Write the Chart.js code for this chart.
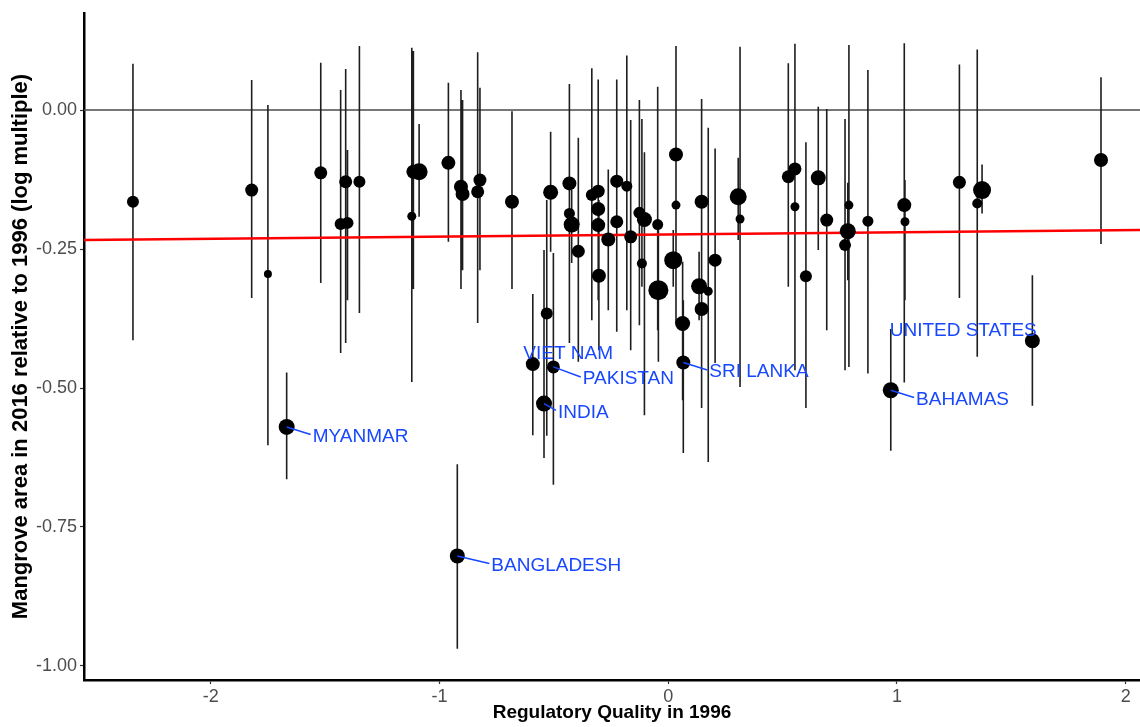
<!DOCTYPE html>
<html>
<head>
<meta charset="utf-8">
<script src="https://cdn.jsdelivr.net/npm/chart.js@4/dist/chart.umd.min.js"></script>
<style>
html,body{margin:0;padding:0;background:#fff;overflow:hidden}
#wrap{position:relative;width:1140px;height:727px}
</style>
</head>
<body>
<div id="wrap"><canvas id="c" width="1140" height="727"></canvas></div>
<script>
// ---------------- data ----------------
const regQuality = [
  -2.340, -1.821, -1.750, -1.519, -1.432, -1.410, -1.402, -1.668, -1.350, -1.121,
  -1.114, -1.089, -0.961, -0.906, -0.899, -0.833, -0.823, -0.922, -0.683, -0.592,
  -0.531, -0.514, -0.543, -0.502, -0.432, -0.432, -0.422, -0.393, -0.334, -0.306,
  -0.306, -0.306, -0.303, -0.262, -0.225, -0.225, -0.181, -0.164, -0.126, -0.104,
  -0.115, -0.046, -0.043, 0.034, 0.034, 0.022, 0.063, 0.066, 0.146, 0.135,
  0.146, 0.175, 0.205, 0.306, 0.314, 0.525, 0.554, 0.554, 0.602, 0.656,
  0.693, 0.790, 0.785, 0.773, 0.873, 0.973, 1.032, 1.035, 1.273, 1.351,
  1.372, 1.592, 1.892
];
const mangroveChange = [
  -0.165, -0.144, -0.295, -0.113, -0.205, -0.129, -0.203, -0.570, -0.129, -0.191,
  -0.111, -0.111, -0.095, -0.138, -0.151, -0.147, -0.126, -0.802, -0.165, -0.457,
  -0.366, -0.148, -0.528, -0.462, -0.132, -0.186, -0.206, -0.254, -0.153, -0.146,
  -0.178, -0.207, -0.298, -0.233, -0.128, -0.201, -0.137, -0.228, -0.185, -0.197,
  -0.276, -0.206, -0.324, -0.080, -0.171, -0.270, -0.384, -0.454, -0.165, -0.317,
  -0.358, -0.326, -0.270, -0.156, -0.196, -0.120, -0.106, -0.174, -0.299, -0.122,
  -0.198, -0.171, -0.218, -0.243, -0.200, -0.504, -0.171, -0.201, -0.130, -0.168,
  -0.144, -0.415, -0.090
];
const ciHigh = [
  0.083, 0.054, 0.009, 0.085, 0.036, 0.074, -0.072, -0.472, 0.115, 0.112,
  0.106, -0.025, 0.049, 0.036, 0.018, 0.104, 0.040, -0.637, -0.002, -0.331,
  -0.162, -0.039, -0.252, -0.257, 0.047, -0.072, -0.144, -0.050, 0.075, 0.055,
  -0.018, -0.072, -0.162, -0.107, 0.055, -0.018, 0.098, -0.018, 0.018, -0.076,
  -0.016, 0.042, -0.216, 0.115, -0.072, -0.216, -0.273, -0.342, 0.020, -0.255,
  -0.252, -0.032, -0.069, -0.086, 0.114, 0.084, 0.119, -0.072, -0.058, 0.006,
  0.002, 0.117, -0.131, -0.016, 0.072, -0.394, 0.120, -0.126, 0.082, 0.109,
  -0.098, -0.297, 0.059
];
const ciLow = [
  -0.414, -0.338, -0.603, -0.311, -0.437, -0.419, -0.342, -0.664, -0.365, -0.489,
  -0.322, -0.192, -0.237, -0.322, -0.288, -0.383, -0.288, -0.969, -0.322, -0.585,
  -0.586, -0.255, -0.626, -0.674, -0.419, -0.324, -0.275, -0.453, -0.378, -0.252,
  -0.342, -0.342, -0.432, -0.360, -0.399, -0.342, -0.360, -0.432, -0.387, -0.549,
  -0.318, -0.396, -0.453, -0.216, -0.383, -0.318, -0.522, -0.617, -0.396, -0.378,
  -0.536, -0.633, -0.455, -0.234, -0.498, -0.318, -0.468, -0.270, -0.536, -0.252,
  -0.396, -0.462, -0.306, -0.468, -0.474, -0.613, -0.490, -0.342, -0.338, -0.444,
  -0.186, -0.532, -0.241
];
// relative weight of each country (drawn as point radius)
const weight = [
  6, 6.5, 4, 6.5, 6, 6.5, 6, 8, 6, 4.5,
  7, 8.5, 7, 7, 7, 6.5, 6.5, 7.5, 7, 7,
  6, 7.5, 8, 6.5, 7, 5.5, 8, 6.5, 6, 6.5,
  7, 7, 7, 7, 6.5, 6.5, 5.5, 6.5, 6, 7.5,
  5, 5.5, 10, 7, 4.5, 9, 7.5, 7, 7, 8,
  7, 4.5, 6.5, 8.5, 4.5, 6.5, 6.5, 4.5, 6, 7.5,
  6.5, 4.5, 8, 6, 5.5, 8, 7, 4.5, 6.5, 5,
  9, 7.5, 7
];
const countryLabel = [
  "", "", "", "", "", "", "", "MYANMAR", "", "",
  "", "", "", "", "", "", "", "BANGLADESH", "", "VIET NAM",
  "", "", "INDIA", "PAKISTAN", "", "", "", "", "", "",
  "", "", "", "", "", "", "", "", "", "",
  "", "", "", "", "", "", "", "SRI LANKA", "", "",
  "", "", "", "", "", "", "", "", "", "",
  "", "", "", "", "", "BAHAMAS", "", "", "", "",
  "", "UNITED STATES", ""
];
const xTicks = [-2, -1, 0, 1, 2];
const yTicks = [0, -0.25, -0.5, -0.75, -1.0];
const xLimits = [-2.554, 2.0625];
const yLimits = [-1.0252, 0.1745];
const fitX = [-2.554, 2.0625];
const fitY = [-0.2338, -0.2158];

// ---------------- styles ----------------
const FONT = "'Liberation Sans', Arial, sans-serif";
const LABEL_BLUE = '#1747ff';
// label placement (pixel offset of text from its point), ggrepel-like
const labelPlacement = {
  "MYANMAR":       {dx: 26, dy: 8, align: 'left', leader: true},
  "BANGLADESH":    {dx: 34, dy: 8, align: 'left', leader: true},
  "VIET NAM":      {dx: -9.5, dy: -12.3, align: 'left', leader: false},
  "INDIA":         {dx: 14, dy: 7.4, align: 'left', leader: true},
  "PAKISTAN":      {dx: 29.4, dy: 10.6, align: 'left', leader: true},
  "SRI LANKA":     {dx: 26, dy: 8, align: 'left', leader: true},
  "BAHAMAS":       {dx: 25.3, dy: 7.7, align: 'left', leader: true},
  "UNITED STATES": {dx: 4.4, dy: -11.4, align: 'right', leader: false}
};

// ---------------- build datasets ----------------
const points = regQuality.map((x, i) => ({x: x, y: mangroveChange[i], r: weight[i]}));
const bars = [];
regQuality.forEach((x, i) => {
  bars.push({x: x, y: ciLow[i]});
  bars.push({x: x, y: ciHigh[i]});
  bars.push({x: x, y: null});
});
const zeroLine = xLimits.map(x => ({x: x, y: 0}));
const fitLine = fitX.map((x, i) => ({x: x, y: fitY[i]}));

const labelPlugin = {
  id: 'countryLabels',
  afterDatasetsDraw(chart) {
    const ctx = chart.ctx;
    const xs = chart.scales.x, ys = chart.scales.y;
    ctx.save();
    ctx.font = '19px ' + FONT;
    ctx.fillStyle = LABEL_BLUE;
    ctx.strokeStyle = LABEL_BLUE;
    ctx.lineWidth = 1.5;
    ctx.textBaseline = 'alphabetic';
    countryLabel.forEach((name, i) => {
      if (!name) return;
      const p = labelPlacement[name];
      const px = xs.getPixelForValue(regQuality[i]);
      const py = ys.getPixelForValue(mangroveChange[i]);
      const tx = px + p.dx;
      const ty = py + p.dy;
      if (p.leader) {
        ctx.beginPath();
        ctx.moveTo(px, py);
        ctx.lineTo(tx - 2, ty - 0.5);
        ctx.stroke();
      }
      ctx.textAlign = p.align;
      ctx.fillText(name, tx, ty + 6.8);
    });
    ctx.restore();
  }
};

new Chart(document.getElementById('c'), {
  type: 'scatter',
  data: {
    datasets: [
      {type: 'bubble', data: points, backgroundColor: '#000', borderWidth: 0, order: 1,
       hoverRadius: 0},
      {type: 'line', data: fitLine, borderColor: '#ff0000', borderWidth: 2.6, pointRadius: 0,
       fill: false, order: 2},
      {type: 'line', data: bars, borderColor: '#1e1e1e', borderWidth: 1.6, pointRadius: 0,
       spanGaps: false, fill: false, order: 3},
      {type: 'line', data: zeroLine, borderColor: '#4a4a4a', borderWidth: 1.6, pointRadius: 0,
       fill: false, order: 4}
    ]
  },
  options: {
    responsive: false,
    animation: false,
    events: [],
    layout: {autoPadding: false, padding: {top: 13, right: 0, bottom: 0, left: 0}},
    plugins: {legend: {display: false}, tooltip: {enabled: false}},
    scales: {
      x: {
        type: 'linear', min: xLimits[0], max: xLimits[1],
        afterBuildTicks: s => { s.ticks = xTicks.map(v => ({value: v})); },
        afterFit: s => { s.height = 47; s.paddingLeft = 0; s.paddingRight = 0; },
        grid: {drawOnChartArea: false, drawTicks: true, tickLength: 4, color: '#333', tickWidth: 1.2},
        border: {display: true, color: '#000', width: 2.5},
        ticks: {color: '#4d4d4d', font: {family: FONT, size: 18}, padding: 2, maxRotation: 0,
                callback: v => String(v)},
        title: {display: true, text: 'Regulatory Quality in 1996', color: '#000',
                font: {family: FONT, size: 19, weight: 'bold'}, padding: {top: 0, bottom: 2.6}}
      },
      y: {
        type: 'linear', min: yLimits[0], max: yLimits[1],
        afterBuildTicks: s => { s.ticks = yTicks.map(v => ({value: v})); },
        afterFit: s => { s.width = 84; s.paddingTop = 0; s.paddingBottom = 0; },
        grid: {drawOnChartArea: false, drawTicks: true, tickLength: 4, color: '#333', tickWidth: 1.2},
        border: {display: true, color: '#000', width: 2.5},
        ticks: {color: '#4d4d4d', font: {family: FONT, size: 18}, padding: 3,
                callback: v => v.toFixed(2)},
        title: {display: true, text: 'Mangrove area in 2016 relative to 1996 (log multiple)', color: '#000',
                font: {family: FONT, size: 22, weight: 'bold'}, padding: {top: 8, bottom: 0}}
      }
    }
  },
  plugins: [labelPlugin]
});
</script>
</body>
</html>
